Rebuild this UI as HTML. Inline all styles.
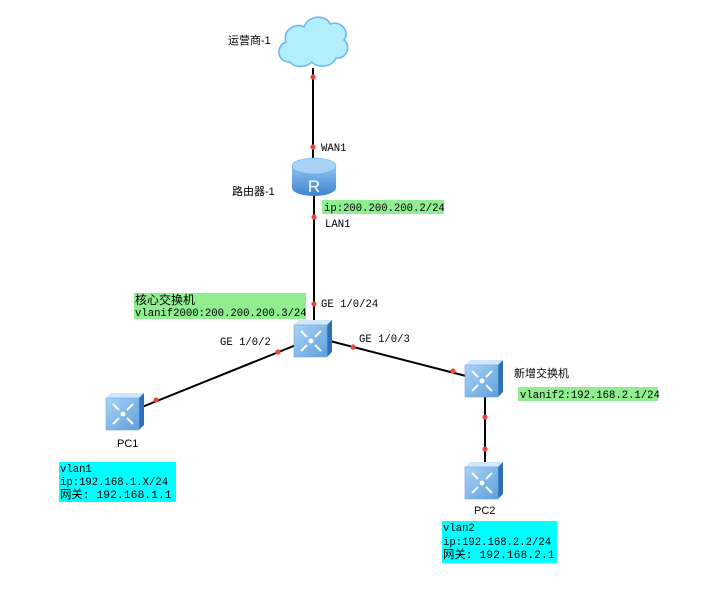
<!DOCTYPE html>
<html><head><meta charset="utf-8"><style>
body{margin:0;background:#fff;width:710px;height:602px;overflow:hidden}
svg{display:block}
.m{font-family:"Liberation Mono","DejaVu Sans Mono",monospace;font-size:10.6px;fill:#000}
.c{font-family:"Liberation Sans","Noto Sans CJK SC",sans-serif;font-size:11px;fill:#000}
.b{font-family:"Liberation Mono","Noto Sans CJK SC",monospace;font-size:11.4px;fill:#000}
</style></head><body>
<svg width="710" height="602" viewBox="0 0 710 602" xmlns="http://www.w3.org/2000/svg">
<defs>
<linearGradient id="sf" x1="0" y1="0" x2="1" y2="1"><stop offset="0" stop-color="#a9d3f5"/><stop offset="1" stop-color="#5e9fdc"/></linearGradient>
<linearGradient id="rt" x1="0" y1="0" x2="0" y2="1"><stop offset="0" stop-color="#8cc4f2"/><stop offset="1" stop-color="#3f83cf"/></linearGradient>
<g id="sw">
<polygon points="0,5 5,0 38,0 33,5" fill="#cfe6fb"/>
<polygon points="33,5 38,0 38,32 33,37" fill="#2f6fb8"/>
<rect x="0" y="5" width="33" height="32" fill="url(#sf)" stroke="#6fa8e0" stroke-width="0.6"/>
<g stroke="#fff" stroke-width="2" fill="none">
<path d="M7,11 L13,17 M7,31 L13,25 M27,11 L21,17 M27,31 L21,25"/>
</g>
<circle cx="17" cy="21" r="2.5" fill="#fff"/>
</g>
</defs>
<g stroke="#000" stroke-width="2">
<line x1="313" y1="68" x2="313" y2="162"/>
<line x1="314" y1="194" x2="314" y2="322"/>
<line x1="296" y1="345" x2="142" y2="407"/>
<line x1="330" y1="341" x2="466" y2="376"/>
<line x1="485" y1="396" x2="485" y2="465"/>
</g>
<g fill="#f0443a">
<circle cx="313" cy="77" r="2.6"/><circle cx="313" cy="147" r="2.6"/>
<circle cx="314" cy="217" r="2.6"/><circle cx="314" cy="304" r="2.6"/>
<circle cx="278" cy="352" r="2.6"/><circle cx="156" cy="400" r="2.6"/>
<circle cx="353" cy="347" r="2.6"/><circle cx="453" cy="371" r="2.6"/>
<circle cx="485" cy="417" r="2.6"/><circle cx="485" cy="449" r="2.6"/>
</g>
<path d="M290,62 C276,62 276,45 286,42 C282,30 296,22 304,27 C308,15 326,14 330,24 C342,20 350,32 344,40 C352,46 346,60 336,58 C332,68 316,68 312,62 C306,68 294,68 290,62 Z" fill="#b2eefc" stroke="#6ab4ee" stroke-width="1.5"/>
<path d="M292,166 L292,188 A22,8 0 0 0 336,188 L336,166 Z" fill="url(#rt)"/>
<ellipse cx="314" cy="166" rx="22" ry="8" fill="#a7d2f6" stroke="#6fa8e0" stroke-width="0.6"/>
<text x="314" y="192" font-family="Liberation Sans,sans-serif" font-size="17" fill="#fff" text-anchor="middle">R</text>
<use href="#sw" x="294" y="320"/>
<use href="#sw" x="106" y="393"/>
<use href="#sw" x="465" y="360"/>
<use href="#sw" x="465" y="462"/>
<rect x="322" y="200" width="122" height="14" fill="#90ee90"/>
<rect x="134" y="293" width="172" height="26" fill="#90ee90"/>
<rect x="518" y="387" width="140" height="14" fill="#90ee90"/>
<rect x="59" y="462" width="117" height="40" fill="#00ffff"/>
<rect x="442" y="521" width="115" height="42" fill="#00ffff"/>
<text class="c" x="228" y="44">运营商-1</text>
<text class="m" x="321" y="151">WAN1</text>
<text class="c" x="232" y="195">路由器-1</text>
<text class="m" x="324" y="211">ip:200.200.200.2/24</text>
<text class="m" x="325" y="227">LAN1</text>
<text class="c" x="135" y="304" style="font-size:12px">核心交换机</text>
<text class="m" x="135" y="316">vlanif2000:200.200.200.3/24</text>
<text class="m" x="321" y="307">GE 1/0/24</text>
<text class="m" x="220" y="345">GE 1/0/2</text>
<text class="m" x="359" y="342">GE 1/0/3</text>
<text class="c" x="514" y="377">新增交换机</text>
<text class="m" x="520" y="398">vlanif2:192.168.2.1/24</text>
<text class="c" x="117" y="447">PC1</text>
<text class="c" x="474" y="514">PC2</text>
<text class="m" x="60" y="472">vlan1</text>
<text class="m" x="60" y="485">ip:192.168.1.X/24</text>
<text class="b" x="60" y="498">网关: 192.168.1.1</text>
<text class="m" x="443" y="531">vlan2</text>
<text class="m" x="443" y="545">ip:192.168.2.2/24</text>
<text class="b" x="443" y="558">网关: 192.168.2.1</text>
</svg>
</body></html>
